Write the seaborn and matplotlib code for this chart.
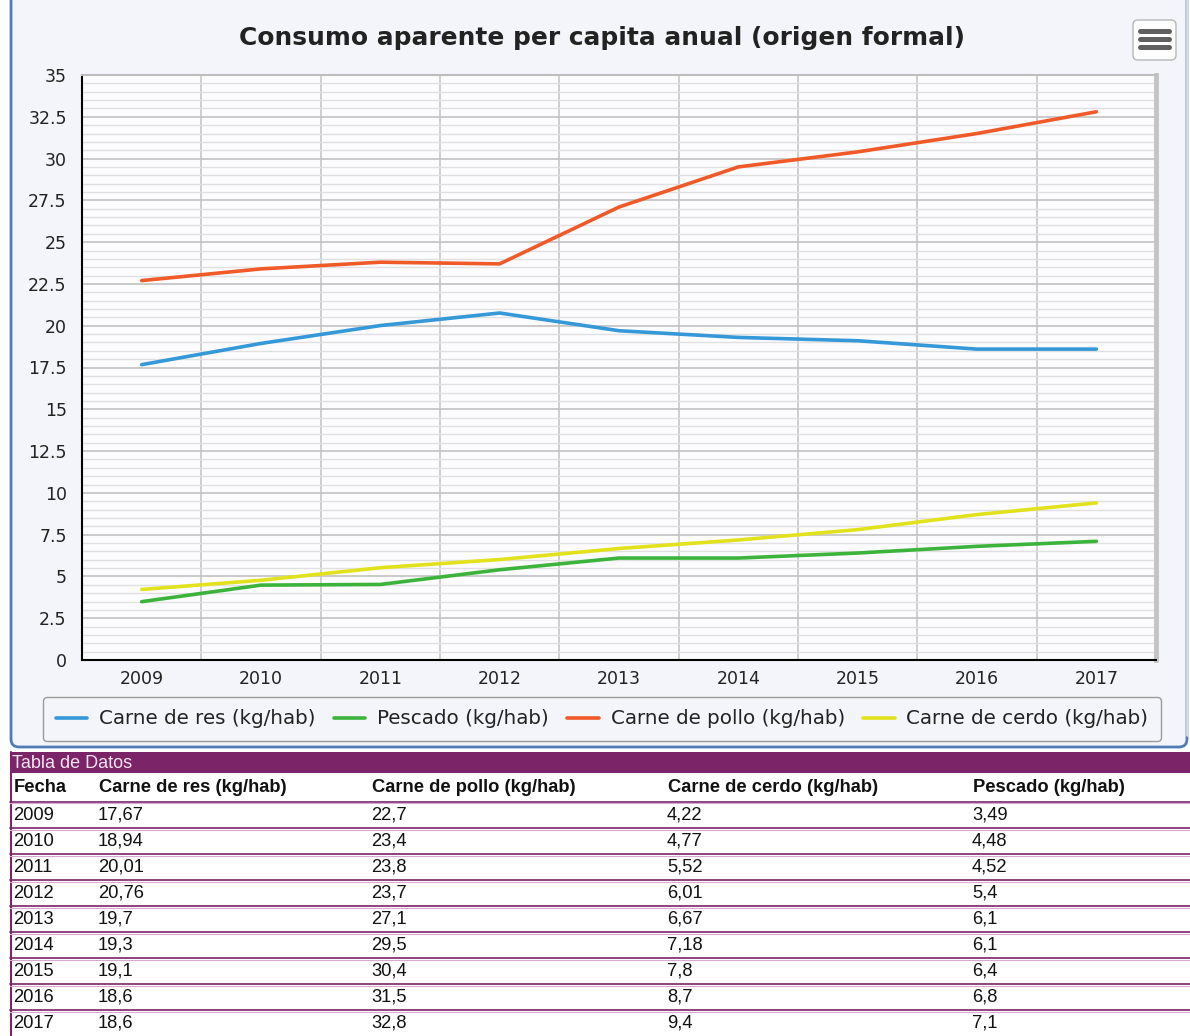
import numpy as np
import pandas as pd
import matplotlib
matplotlib.use("Agg")
import matplotlib.pyplot as plt
import seaborn as sns
from matplotlib.patches import FancyBboxPatch, Rectangle
from matplotlib.lines import Line2D

# ---------------- data ----------------
years = [2009, 2010, 2011, 2012, 2013, 2014, 2015, 2016, 2017]
carne_res = [17.67, 18.94, 20.01, 20.76, 19.7, 19.3, 19.1, 18.6, 18.6]
carne_pollo = [22.7, 23.4, 23.8, 23.7, 27.1, 29.5, 30.4, 31.5, 32.8]
carne_cerdo = [4.22, 4.77, 5.52, 6.01, 6.67, 7.18, 7.8, 8.7, 9.4]
pescado = [3.49, 4.48, 4.52, 5.4, 6.1, 6.1, 6.4, 6.8, 7.1]

series_names = ["Carne de res (kg/hab)", "Pescado (kg/hab)",
                "Carne de pollo (kg/hab)", "Carne de cerdo (kg/hab)"]
series_values = [carne_res, pescado, carne_pollo, carne_cerdo]
series_colors = ["#3598d8", "#3cb43c", "#f05a28", "#e2e21c"]

table_cols = ["Fecha", "Carne de res (kg/hab)", "Carne de pollo (kg/hab)",
              "Carne de cerdo (kg/hab)", "Pescado (kg/hab)"]
table_data = [years, carne_res, carne_pollo, carne_cerdo, pescado]

title = "Consumo aparente per capita anual (origen formal)"

rows = []
for name, vals in zip(series_names, series_values):
    for i, v in enumerate(vals):
        rows.append({"idx": i, "valor": v, "serie": name})
df = pd.DataFrame(rows)

# ---------------- figure ----------------
sns.set_style("white")
plt.rcParams["font.family"] = ["DejaVu Sans"]

W, H = 1190, 1036
fig = plt.figure(figsize=(W / 100, H / 100), dpi=100)
fig.patch.set_facecolor("white")

panel_bg = "#f4f5fb"
purple = "#7b2468"

# background axes in pixel coordinates
bg = fig.add_axes([0, 0, 1, 1])
bg.set_xlim(0, W)
bg.set_ylim(H, 0)
bg.axis("off")

bg.add_patch(FancyBboxPatch((11, -20), 1176, 767,
                            boxstyle="round,pad=0,rounding_size=8",
                            facecolor=panel_bg, edgecolor="#4f7db8", lw=2))
bg.plot([1187, 1187], [0, 735], color="#d6dbe6", lw=2)

# menu button
bg.add_patch(FancyBboxPatch((1133, 20), 43, 40,
                            boxstyle="round,pad=0,rounding_size=5",
                            facecolor="#fdfdfd", edgecolor="#b8b8b8", lw=1))
for yy in (31, 39, 47):
    bg.plot([1140, 1169], [yy, yy], color="#606060", lw=3.6,
            solid_capstyle="round")

bg.text(602, 38, title, ha="center", va="center", fontsize=17.9,
        fontweight="bold", color="#222222")

# ---------------- table ----------------
bg.add_patch(Rectangle((10, 752), 1180, 21, facecolor=purple, edgecolor="none"))
bg.text(12, 763, "Tabla de Datos", ha="left", va="center", fontsize=13,
        color="#f3e6f1", family="Liberation Sans")
bg.plot([10.5, 10.5], [752, 1036], color=purple, lw=1.5)

col_x = [14, 99, 372, 668, 973]
for cx, name in zip(col_x, table_cols):
    bg.text(cx, 788, name, ha="left", va="center", fontsize=13.2,
            fontweight="bold", color="#111111", family="Liberation Sans")

sep_y = [801.5] + [828 + 26 * k for k in range(8)]
for sy in sep_y:
    bg.plot([10, W], [sy, sy], color=purple, lw=1.2)
    bg.plot([10, W], [sy + 1.5, sy + 1.5], color="#d9a9d2", lw=0.8)

for r in range(len(years)):
    yy = 815 + 26 * r
    for c, (cx, col) in enumerate(zip(col_x, table_data)):
        v = col[r]
        txt = str(v) if c == 0 else str(v).replace(".", ",")
        bg.text(cx - 1, yy, txt, ha="left", va="center", fontsize=13.2,
                color="#111111", family="Liberation Sans")

# ---------------- chart ----------------
ax = fig.add_axes([82 / W, 1 - 660 / H, (1156 - 82) / W, (660 - 75) / H])
ax.set_facecolor("#fcfcff")

sns.lineplot(data=df, x="idx", y="valor", hue="serie", hue_order=series_names,
             palette=series_colors, linewidth=2.6, ax=ax, legend=False)

ax.set_xlim(-0.5, len(years) - 0.5)
ax.set_ylim(0, 35)
ax.set_xlabel("")
ax.set_ylabel("")

ax.set_xticks(range(len(years)))
ax.set_xticklabels([str(y) for y in years])
ax.set_xticks(np.arange(-0.5, len(years), 1), minor=True)
ax.tick_params(axis="x", which="major", length=0, pad=7, labelsize=12.5,
               labelcolor="#222222")
ax.tick_params(axis="x", which="minor", length=7, width=1.3, color="black",
               direction="out")

yt = np.arange(0, 35.01, 2.5)
ax.set_yticks(yt)
ax.set_yticklabels([f"{v:g}" for v in yt])
ax.set_yticks(np.arange(0, 35.01, 0.5), minor=True)
ax.tick_params(axis="y", which="major", length=7, width=1.3, color="black",
               direction="out", pad=4, labelsize=12.5, labelcolor="#222222")
ax.tick_params(axis="y", which="minor", length=0)

ax.grid(False)
ax.grid(which="minor", axis="x", color="#c6c6c6", lw=1.2)
ax.grid(which="major", axis="y", color="#c2c2c2", lw=1.2)
ax.grid(which="minor", axis="y", color="#e0e0e0", lw=1.0)
ax.set_axisbelow(True)

for s in ("left", "bottom"):
    ax.spines[s].set_color("black")
    ax.spines[s].set_linewidth(1.5)
ax.spines["top"].set_color("#bdbdbd")
ax.spines["top"].set_linewidth(1.5)
ax.spines["right"].set_color("#c4c4c4")
ax.spines["right"].set_linewidth(3.5)

handles = [Line2D([0], [0], color=c, lw=2.6) for c in series_colors]
leg = fig.legend(handles, series_names, loc="center",
                 bbox_to_anchor=(602 / W, 1 - 719 / H), ncol=4,
                 fontsize=14.3, handlelength=1.6, handletextpad=0.6,
                 columnspacing=0.9, borderpad=0.65, frameon=True,
                 fancybox=True, edgecolor="#9a9a9a", facecolor=panel_bg,
                 framealpha=1)
for t in leg.get_texts():
    t.set_color("#222222")
leg.get_frame().set_linewidth(1.0)

fig.savefig("out.png", dpi=100, facecolor=fig.get_facecolor())
